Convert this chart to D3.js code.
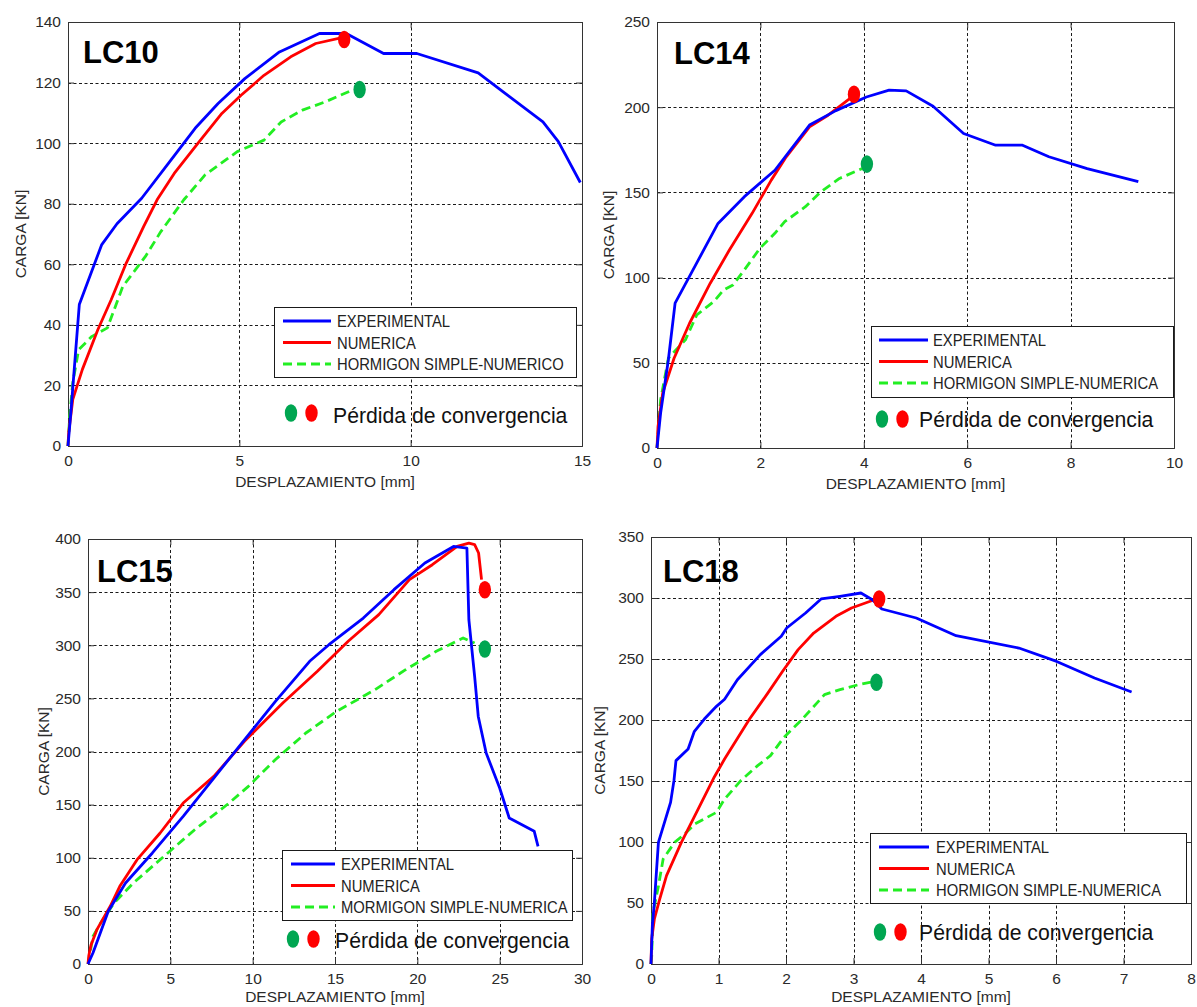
<!DOCTYPE html>
<html><head><meta charset="utf-8">
<script src="https://cdn.jsdelivr.net/npm/d3@7/dist/d3.min.js"></script>
<style>body{margin:0;background:#fff}svg{display:block}</style>
</head><body>
<svg id="c" width="1197" height="1007"></svg>
<script>
// ---------- DATA ----------
const titles = ["LC10", "LC14", "LC15", "LC18"];
const seriesNames = ["EXPERIMENTAL", "NUMERICA"];
const plainLabels = ["HORMIGON SIMPLE-NUMERICO", "HORMIGON SIMPLE-NUMERICA", "MORMIGON SIMPLE-NUMERICA", "HORMIGON SIMPLE-NUMERICA"];
const noteText = "Pérdida de convergencia";
const xAxisLabel = "DESPLAZAMIENTO [mm]";
const yAxisLabel = "CARGA [KN]";

const xTicks10 = [0, 5, 10, 15];
const yTicks10 = [0, 20, 40, 60, 80, 100, 120, 140];
const xTicks14 = [0, 2, 4, 6, 8, 10];
const yTicks14 = [0, 50, 100, 150, 200, 250];
const xTicks15 = [0, 5, 10, 15, 20, 25, 30];
const yTicks15 = [0, 50, 100, 150, 200, 250, 300, 350, 400];
const xTicks18 = [0, 1, 2, 3, 4, 5, 6, 7, 8];
const yTicks18 = [0, 50, 100, 150, 200, 250, 300, 350];

const lc10Exp = [[0,0],[0.09,12],[0.33,46.7],[0.98,66.4],[1.43,73.4],[2.15,81.8],[2.93,93.3],[3.71,104.9],[4.38,113.1],[5.16,121.3],[6.17,130.1],[7.34,136.2],[8.12,136.2],[9.21,129.6],[10.18,129.6],[11.97,123.2],[12.69,117],[13.86,107],[14.31,100.5],[14.95,87]];
const lc10Num = [[0,0],[0.02,4.4],[0.14,15.4],[0.42,25.3],[0.87,38.4],[1.26,48.3],[1.70,60.4],[2.21,72.5],[2.6,81.3],[3.1,90],[3.83,100.5],[4.49,109.8],[5.05,115.8],[5.72,122.4],[6.5,128.5],[7.23,132.9],[8.06,135]];
const lc10Hs = [[0,0],[0.05,10],[0.14,20.9],[0.31,31.8],[0.7,36.2],[1.15,39],[1.6,52.7],[2.26,62.6],[2.71,70.8],[3.38,81.3],[4.0,89.5],[4.94,97.2],[5.72,101],[6.22,107],[6.84,110.9],[7.5,113.6],[8.29,117.5]];
const lc10NumStop = [8.06, 134.2];
const lc10HsStop = [8.51, 117.7];

const lc14Exp = [[0,0],[0.07,20.5],[0.22,51.8],[0.35,85],[0.66,102.5],[1.18,131.8],[1.69,147.5],[2.28,163],[2.95,189.5],[3.46,198],[4.05,206],[4.49,210],[4.82,209.6],[5.34,200.6],[5.93,184.6],[6.55,177.7],[7.07,177.7],[7.58,170.9],[8.32,164],[9.31,156.3]];
const lc14Num = [[0,0],[0.02,12.7],[0.11,32.2],[0.33,52.7],[0.63,73.2],[1.03,96.7],[1.4,116.2],[1.84,137.7],[2.21,157.2],[2.5,170.9],[2.95,188.5],[3.31,195.3],[3.81,207]];
const lc14Hs = [[0,0],[0.02,8],[0.07,28.3],[0.22,52.7],[0.55,63.5],[0.77,78.1],[1.1,86],[1.29,92.8],[1.47,95.7],[1.69,104.5],[1.99,117.2],[2.28,126],[2.47,132.8],[2.87,141.6],[3.17,150.4],[3.53,158.2],[3.97,164]];
const lc14NumStop = [3.81, 207.6];
const lc14HsStop = [4.06, 166.6];

const lc15Exp = [[0,0],[0.3,10.4],[1.23,49.6],[2.28,76.2],[3.91,104.5],[5.78,139],[7.64,175],[9.5,211],[11.37,247],[13.46,284.9],[14.63,300.5],[16.72,325.6],[18.58,352.3],[20.46,377.4],[22.2,393],[23.01,391.5],[23.13,324],[23.48,270.7],[23.7,233],[24.18,198.6],[25,165.6],[25.58,137.4],[27.1,124.9],[27.33,110.7]];
const lc15Num = [[0,0],[0.05,8],[0.19,18.2],[0.54,32.3],[1.35,54.3],[1.93,73.1],[2.98,98.2],[4.38,123.3],[5.78,151.5],[7.64,176.6],[9.5,209.6],[11.83,245.6],[13.93,275.5],[15.8,303.7],[17.66,328.8],[19.52,361.8],[20.91,375.8],[22.42,393],[23.13,396.2],[23.48,394.7],[23.72,386.8],[23.9,361.7]];
const lc15Hs = [[0,0],[0.1,8],[0.3,26],[0.77,38.6],[1.58,57.4],[2.75,76.2],[4.61,101.3],[6.48,126.4],[8.57,151.5],[9.74,167.2],[11.37,192.3],[13.23,217.4],[15.1,237.8],[17.43,258.2],[19.29,277],[21.15,294.3],[22.78,306.8],[23.48,302.1]];
const lc15NumStop = [24.1, 352.3];
const lc15HsStop = [24.1, 296.5];

const lc18Exp = [[0,0],[0.02,31.4],[0.05,50.5],[0.11,99.7],[0.29,132.5],[0.34,150.3],[0.37,166.7],[0.55,176.2],[0.64,190.4],[0.79,200.8],[0.97,211.2],[1.09,217],[1.28,233],[1.62,253.6],[1.93,268.6],[2.01,275.4],[2.29,287.7],[2.52,299.2],[2.8,301.4],[3.11,304.1],[3.28,298.6],[3.42,291],[3.93,283.6],[4.52,269.1],[5.45,259],[6.01,248],[6.57,234.4],[7.12,223]];
const lc18Num = [[0,0],[0.01,20.5],[0.05,36.9],[0.13,53.3],[0.23,72.4],[0.45,99.7],[0.65,121.6],[0.94,153.5],[1.09,168],[1.46,200.8],[1.73,222],[1.95,240],[2.18,257.7],[2.41,271.3],[2.74,285],[2.97,291.8],[3.31,298.6]];
const lc18Hs = [[0,0],[0.01,6.3],[0.03,42],[0.11,64],[0.18,86],[0.35,99.7],[0.5,106.6],[0.65,114.8],[0.97,124.3],[1.09,135.2],[1.33,150.3],[1.58,162.6],[1.77,170.8],[1.97,185.8],[2.22,199.5],[2.46,214],[2.57,220.8],[2.8,224.9],[3.08,229],[3.31,231.7]];
const lc18NumStop = [3.38, 299.2];
const lc18HsStop = [3.34, 230.9];

// ---------- LAYOUT ----------
const FONT = "'Liberation Sans', Arial, Helvetica, sans-serif";
const colors = { exp: "#0000ff", num: "#ff0000", hs: "#22ee22", dotGreen: "#00a651", dotRed: "#ff0000" };

const panels = [
  { title: titles[0], x: [68, 582], y: [446, 22], xd: [0, 15], yd: [0, 140], xt: xTicks10, yt: yTicks10,
    exp: lc10Exp, num: lc10Num, hs: lc10Hs, numStop: lc10NumStop, hsStop: lc10HsStop, hsLabel: plainLabels[0],
    legend: [274, 307, 302, 70], sample: [9, 57, 63], note: [291, 413, 333, 423], ylabX: 20, titlePos: [83, 63], xlabY: 487 },
  { title: titles[1], x: [657, 1174], y: [448, 22], xd: [0, 10], yd: [0, 250], xt: xTicks14, yt: yTicks14,
    exp: lc14Exp, num: lc14Num, hs: lc14Hs, numStop: lc14NumStop, hsStop: lc14HsStop, hsLabel: plainLabels[1],
    legend: [871, 326, 302, 71], sample: [8, 57, 62], note: [882, 419, 919, 427], ylabX: 608, titlePos: [674, 64], xlabY: 489 },
  { title: titles[2], x: [88, 582], y: [964, 539], xd: [0, 30], yd: [0, 400], xt: xTicks15, yt: yTicks15,
    exp: lc15Exp, num: lc15Num, hs: lc15Hs, numStop: lc15NumStop, hsStop: lc15HsStop, hsLabel: plainLabels[2],
    legend: [282, 850, 290, 70], sample: [9, 53, 59], note: [293, 939, 335, 948], ylabX: 43, titlePos: [97, 582], xlabY: 1002 },
  { title: titles[3], x: [651, 1191], y: [964, 537], xd: [0, 8], yd: [0, 350], xt: xTicks18, yt: yTicks18,
    exp: lc18Exp, num: lc18Num, hs: lc18Hs, numStop: lc18NumStop, hsStop: lc18HsStop, hsLabel: plainLabels[3],
    legend: [870, 833, 316, 70], sample: [9, 59, 66], note: [880, 932, 919, 940], ylabX: 599, titlePos: [663, 582], xlabY: 1002 }
];

const svg = d3.select("#c");

panels.forEach(p => {
  const xs = d3.scaleLinear().domain(p.xd).range(p.x);
  const ys = d3.scaleLinear().domain(p.yd).range(p.y);
  const g = svg.append("g");
  const L = p.x[0], R = p.x[1], B = p.y[0], T = p.y[1];

  // grid
  const grid = g.append("g").attr("stroke", "#1a1a1a").attr("stroke-width", 1).attr("stroke-dasharray", "3,2.5");
  grid.selectAll("line.gx").data(p.xt.slice(1, -1)).join("line")
    .attr("class", "gx")
    .attr("x1", d => Math.round(xs(d)) + 0.5).attr("x2", d => Math.round(xs(d)) + 0.5)
    .attr("y1", T).attr("y2", B);
  grid.selectAll("line.gy").data(p.yt.slice(1, -1)).join("line")
    .attr("class", "gy")
    .attr("y1", d => Math.round(ys(d)) + 0.5).attr("y2", d => Math.round(ys(d)) + 0.5)
    .attr("x1", L).attr("x2", R);

  // axes (ticks inward, on all four sides)
  const axB = d3.axisBottom(xs).tickValues(p.xt).tickSize(-6).tickPadding(9).tickFormat(d3.format("d"));
  const axL = d3.axisLeft(ys).tickValues(p.yt).tickSize(-6).tickPadding(7).tickFormat(d3.format("d"));
  const axT = d3.axisTop(xs).tickValues(p.xt).tickSize(-6).tickFormat("");
  const axR = d3.axisRight(ys).tickValues(p.yt).tickSize(-6).tickFormat("");
  const styleAx = sel => {
    sel.select(".domain").attr("stroke", "#333");
    sel.selectAll(".tick line").attr("stroke", "#333");
    sel.selectAll("text").attr("font-family", FONT).attr("font-size", "15.5px").attr("fill", "#2a2a2a");
  };
  g.append("g").attr("transform", `translate(0,${B})`).call(axB).call(styleAx);
  g.append("g").attr("transform", `translate(${L},0)`).call(axL).call(styleAx);
  g.append("g").attr("transform", `translate(0,${T})`).call(axT).call(styleAx);
  g.append("g").attr("transform", `translate(${R},0)`).call(axR).call(styleAx);

  // lines
  const line = d3.line().x(d => xs(d[0])).y(d => ys(d[1]));
  g.append("path").datum(p.hs).attr("d", line).attr("fill", "none")
    .attr("stroke", colors.hs).attr("stroke-width", 2.8).attr("stroke-dasharray", "9,5").attr("stroke-linejoin", "round");
  g.append("path").datum(p.num).attr("d", line).attr("fill", "none")
    .attr("stroke", colors.num).attr("stroke-width", 2.8).attr("stroke-linejoin", "round");
  g.append("path").datum(p.exp).attr("d", line).attr("fill", "none")
    .attr("stroke", colors.exp).attr("stroke-width", 2.8).attr("stroke-linejoin", "round");

  // convergence-loss markers
  g.append("ellipse").attr("cx", xs(p.hsStop[0])).attr("cy", ys(p.hsStop[1])).attr("rx", 6.2).attr("ry", 8.8).attr("fill", colors.dotGreen);
  g.append("ellipse").attr("cx", xs(p.numStop[0])).attr("cy", ys(p.numStop[1])).attr("rx", 6.2).attr("ry", 8.8).attr("fill", colors.dotRed);

  // legend box
  const [lx, ly, lw, lh] = p.legend;
  const [s0, s1, t0] = p.sample;
  const lg = g.append("g");
  lg.append("rect").attr("x", lx + 0.5).attr("y", ly + 0.5).attr("width", lw).attr("height", lh)
    .attr("fill", "#fff").attr("stroke", "#1a1a1a").attr("stroke-width", 1);
  const rows = [
    { label: seriesNames[0], color: colors.exp, dash: null, dy: 14 },
    { label: seriesNames[1], color: colors.num, dash: null, dy: 35.5 },
    { label: p.hsLabel, color: colors.hs, dash: "9,5", dy: 57 }
  ];
  rows.forEach(r => {
    lg.append("line").attr("x1", lx + s0).attr("x2", lx + s1).attr("y1", ly + r.dy).attr("y2", ly + r.dy)
      .attr("stroke", r.color).attr("stroke-width", 3).attr("stroke-dasharray", r.dash);
    lg.append("text").attr("transform", `translate(${lx + t0},${ly + r.dy + 6}) scale(0.87,1)`)
      .attr("font-family", FONT).attr("font-size", "17px").attr("fill", "#222").text(r.label);
  });

  // note with dots
  const [gx, gy, tx, ty] = p.note;
  g.append("ellipse").attr("cx", gx).attr("cy", gy).attr("rx", 6.2).attr("ry", 8.8).attr("fill", colors.dotGreen);
  g.append("ellipse").attr("cx", gx + 20.5).attr("cy", gy).attr("rx", 6.2).attr("ry", 8.8).attr("fill", colors.dotRed);
  g.append("text").attr("x", tx).attr("y", ty).attr("font-family", FONT).attr("font-size", "21.2px")
    .attr("fill", "#111").text(noteText);

  // title
  g.append("text").attr("x", p.titlePos[0]).attr("y", p.titlePos[1]).attr("font-family", FONT)
    .attr("font-size", "31px").attr("font-weight", "bold").attr("fill", "#000").text(p.title);

  // axis labels
  g.append("text").attr("x", (L + R) / 2).attr("y", p.xlabY).attr("text-anchor", "middle")
    .attr("font-family", FONT).attr("font-size", "15.5px").attr("fill", "#2a2a2a").text(xAxisLabel);
  g.append("text").attr("transform", `translate(${p.ylabX + 5.5},${(T + B) / 2}) rotate(-90)`).attr("text-anchor", "middle")
    .attr("font-family", FONT).attr("font-size", "15.5px").attr("fill", "#2a2a2a").text(yAxisLabel);
});
</script>
</body></html>
